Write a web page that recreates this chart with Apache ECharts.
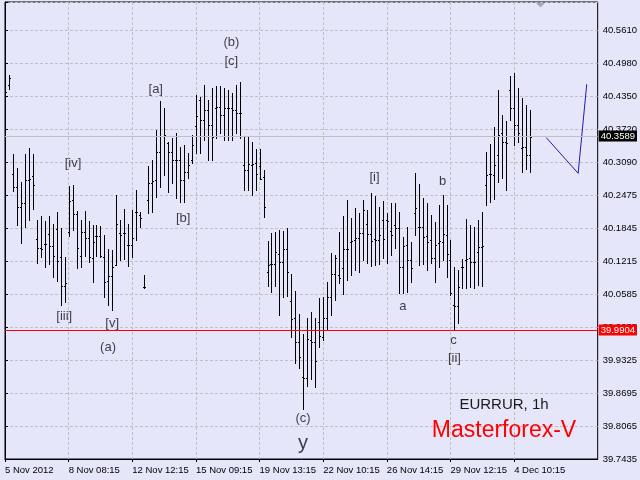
<!DOCTYPE html>
<html>
<head>
<meta charset="utf-8">
<script src="https://cdn.jsdelivr.net/npm/echarts@6/dist/echarts.min.js"></script>
<style>
html,body{margin:0;padding:0;background:#E6E6FA;}
#c{width:640px;height:480px;}
</style>
</head>
<body>
<div id="c"></div>
<script>
// ---- data (EURRUR, 1h bars) ----
const opens = [40.4862,40.4575,40.2876,40.2628,40.2246,40.2323,40.2762,40.2838,40.1635,40.1463,
40.1540,40.1731,40.1502,40.1826,40.1292,40.0738,40.1769,40.2380,40.2112,40.1311,
40.1769,40.1654,40.1272,40.1692,40.1692,40.1292,40.0833,40.0929,40.1139,40.1750,
40.1750,40.1521,40.1521,40.2151,40.2093,40.0719,40.2380,40.2704,40.2762,40.3296,
40.3602,40.3468,40.3296,40.3143,40.3143,40.2762,40.2915,40.3143,40.3793,40.4289,
40.3907,40.4098,40.3812,40.4136,40.4155,40.4002,40.4136,40.4136,40.4098,40.4041,
40.3048,40.2953,40.3048,40.3086,40.3029,40.2819,40.1005,40.1158,40.1158,40.1349,
40.1196,40.1444,40.0452,40.0127,39.9669,39.9000,39.8981,39.9707,39.9669,40.0051,
39.9765,40.0127,40.0528,40.0967,40.0948,40.1081,40.1444,40.1578,40.1616,40.1654,
40.1750,40.1922,40.1731,40.1635,40.1616,40.1998,40.1998,40.1788,40.1903,40.1845,
40.1101,40.1521,40.1234,40.2131,40.1864,40.1864,40.1692,40.1616,40.1272,40.1559,
40.1578,40.1712,40.1234,40.0375,40.0356,40.1101,40.1234,40.1272,40.1196,40.1387,
40.1483,40.2666,40.2876,40.2857,40.3239,40.3659,40.3487,40.4480,40.4136,40.3812,
40.3373,40.3392,40.3239];
const highs = [40.5110,40.4766,40.3258,40.2991,40.2724,40.3258,40.3373,40.3258,40.1998,40.2074,
40.1979,40.2074,40.1922,40.2151,40.1845,40.1292,40.2647,40.2666,40.2170,40.1998,
40.2170,40.1979,40.1903,40.1903,40.1884,40.1712,40.1444,40.1425,40.2475,40.1998,
40.2208,40.1922,40.2189,40.2571,40.2151,40.0948,40.3029,40.3143,40.3716,40.4270,
40.4136,40.3487,40.3564,40.3659,40.3392,40.3430,40.3277,40.3621,40.4384,40.4346,
40.4575,40.4289,40.4518,40.4556,40.4556,40.4518,40.4480,40.4423,40.4575,40.4633,
40.3602,40.3602,40.3487,40.3354,40.3354,40.2953,40.1597,40.1750,40.1769,40.1807,
40.1788,40.1845,40.0967,40.0642,40.0203,39.9822,40.0127,40.0242,40.0127,40.0509,
40.0528,40.0814,40.1368,40.1330,40.1769,40.2074,40.2380,40.2036,40.2227,40.2131,
40.2380,40.2189,40.2513,40.2456,40.2246,40.2361,40.2131,40.2323,40.2323,40.2151,
40.1673,40.1864,40.1578,40.2895,40.2685,40.2418,40.2323,40.2093,40.1960,40.2284,
40.2475,40.2284,40.1616,40.1101,40.1043,40.1253,40.2017,40.1903,40.1864,40.1998,
40.2151,40.3296,40.3449,40.3774,40.4480,40.4002,40.3888,40.4747,40.4804,40.4518,
40.4327,40.4193,40.4098];
const lows = [40.4308,40.4499,40.2552,40.1903,40.1559,40.1864,40.1998,40.2208,40.1177,40.1292,
40.1101,40.1158,40.0910,40.0833,40.0375,40.0433,40.1692,40.1807,40.1081,40.1101,
40.1311,40.1196,40.0814,40.1311,40.1292,40.0528,40.0375,40.0280,40.1139,40.1234,
40.1253,40.1120,40.1292,40.1616,40.1864,40.0700,40.2131,40.2151,40.2437,40.2628,
40.2857,40.2532,40.2704,40.2418,40.2342,40.2342,40.2800,40.3086,40.3277,40.3277,
40.3525,40.3143,40.3143,40.3564,40.3659,40.3525,40.3525,40.3525,40.3659,40.3564,
40.2571,40.2571,40.2475,40.2571,40.2781,40.2055,40.0738,40.0623,40.0738,40.0184,
40.0528,40.0547,39.9765,39.9268,39.9172,39.8390,39.8829,39.8962,39.8810,39.9573,
39.9707,39.9898,40.0184,40.0471,40.0795,40.0585,40.0853,40.0948,40.1043,40.1005,
40.1234,40.1177,40.1120,40.1139,40.1158,40.1272,40.1177,40.1330,40.1463,40.0604,
40.0604,40.0623,40.0814,40.1712,40.1139,40.1158,40.1043,40.1177,40.0814,40.1101,
40.1234,40.0910,40.0566,39.9904,40.0032,40.0700,40.0700,40.0719,40.0700,40.0757,
40.0738,40.2284,40.2342,40.2399,40.2724,40.2800,40.2571,40.3907,40.3430,40.3487,
40.2915,40.2972,40.2915];
const closes = [40.4442,40.4709,40.2628,40.2246,40.2323,40.2762,40.2781,40.2666,40.1463,40.1444,
40.1540,40.1502,40.1311,40.1215,40.0738,40.0795,40.2361,40.2112,40.1463,40.1769,
40.1654,40.1292,40.1578,40.1692,40.1311,40.0814,40.0929,40.1101,40.1922,40.1712,
40.1750,40.1521,40.1654,40.2151,40.2036,40.0719,40.2704,40.2743,40.3296,40.3602,
40.3621,40.3296,40.3143,40.3143,40.2762,40.2915,40.3048,40.3430,40.3983,40.3907,
40.4098,40.3812,40.3583,40.4155,40.4002,40.4136,40.4136,40.4098,40.4041,40.4041,
40.2953,40.3067,40.3067,40.2876,40.2781,40.2246,40.1139,40.1158,40.1387,40.1196,
40.1444,40.1005,40.0108,39.9669,39.9383,39.8981,39.9726,39.9669,39.9306,39.9784,
40.0127,40.0528,40.0967,40.1272,40.0891,40.1444,40.1444,40.1597,40.1654,40.1750,
40.2189,40.1731,40.1597,40.1616,40.1712,40.1635,40.1979,40.1712,40.1845,40.1101,
40.1502,40.1234,40.1081,40.2227,40.1864,40.1673,40.1578,40.1272,40.1521,40.1597,
40.1731,40.1349,40.0604,40.0356,40.0719,40.1101,40.1253,40.1196,40.1196,40.1483,
40.1502,40.2857,40.2876,40.3048,40.3621,40.3487,40.3468,40.4136,40.3812,40.3659,
40.3392,40.3239,40.3589];

const xTickBars   = [0,16,32,48,64,80,96,112,128];
const xTickLabels = ['5 Nov 2012','8 Nov 08:15','12 Nov 12:15','15 Nov 09:15','19 Nov 13:15','22 Nov 10:15','26 Nov 14:15','29 Nov 12:15','4 Dec 10:15'];
const yTickLabels = ['39.7435','39.8065','39.8695','39.9325','39.9955','40.0585','40.1215','40.1845','40.2475','40.3090','40.3720','40.4350','40.4980','40.5610'];

const waveLabels      = ['(b)','[c]','[a]','[iv]','[b]','[iii]','[v]','(a)','[i]','b','a','c','[ii]','(c)','y'];
const waveLabelBars   = [56.9,56.9,37.9,17.1,44.8,14.9,26.95,25.9,92.9,110,100,112.75,113,74.95,74.9];
const waveLabelPrices = [40.5387,40.5024,40.4489,40.3086,40.2030,40.0165,40.0026,39.9558,40.2804,40.2729,40.0356,39.9707,39.9358,39.8203,39.7740];

const projectionBars   = [136.1,144.1,146.25];
const projectionPrices = [40.3569,40.2889,40.4589];

const lastPrice = 40.3589;
const levelPrice = 39.9904;

// ---- chart ----
const FONT = '"Liberation Sans", Arial, sans-serif';
const yMin = parseFloat(yTickLabels[0]);
const yStep = 0.063;
const chart = echarts.init(document.getElementById('c'), null, {renderer:'canvas'});

const ohlc = opens.map((o, i) => [i, o, highs[i], lows[i], closes[i]]);
const labelData = waveLabels.map((t, i) => {
  const item = {value:[waveLabelBars[i], waveLabelPrices[i], t]};
  if (t === 'y') item.label = {fontSize: 20};
  return item;
});

const gridLine = {show:true, lineStyle:{color:'#C0C0C0', width:1, type:[3,2]}};

chart.setOption({
  animation:false,
  backgroundColor:'#E6E6FA',
  grid:{left:5, right:39, top:2, bottom:21, show:true, backgroundColor:'#E6E6FA', borderColor:'#000', borderWidth:1},
  xAxis:{
    type:'value', min:0, max:149, interval:8,
    axisLine:{show:true, lineStyle:{color:'#000', width:1}},
    axisTick:{show:true, length:3, lineStyle:{color:'#000'}, customValues:xTickBars},
    axisLabel:{show:true, customValues:xTickBars, align:'left', margin:6, color:'#000', fontSize:9.5, fontFamily:FONT,
      formatter:function(v){ const i = xTickBars.indexOf(Math.round(v)); return (i>=0 && Math.abs(v-Math.round(v))<1e-6) ? xTickLabels[i] : ''; }},
    splitLine:gridLine
  },
  yAxis:{
    type:'value', position:'right', min:yMin, max:40.616, interval:yStep,
    axisLine:{show:true, lineStyle:{color:'#000', width:1}},
    axisTick:{show:true, length:3, lineStyle:{color:'#000'}},
    axisLabel:{show:true, margin:5, color:'#000', fontSize:9.5, fontFamily:FONT,
      formatter:function(v){ const i = Math.round((v-yMin)/yStep); return (i>=0 && i<yTickLabels.length && Math.abs(v-(yMin+i*yStep))<1e-6) ? yTickLabels[i] : ''; }},
    splitLine:gridLine
  },
  series:[
    {
      type:'custom', name:'EURRUR', data:ohlc, clip:true, silent:true,
      encode:{x:0, y:[1,2,3,4]},
      renderItem:function(params, api){
        const k = api.value(0);
        const po = api.coord([k, api.value(1)]);
        const ph = api.coord([k, api.value(2)]);
        const pl = api.coord([k, api.value(3)]);
        const pc = api.coord([k, api.value(4)]);
        const X = Math.round(po[0]);
        const st = {stroke:'#000', lineWidth:1};
        const yo = Math.round(po[1]) + 0.5, yc = Math.round(pc[1]) + 0.5;
        return {type:'group', children:[
          {type:'line', shape:{x1:X+0.5, y1:Math.round(ph[1]), x2:X+0.5, y2:Math.round(pl[1])+1}, style:st},
          {type:'line', shape:{x1:X-1, y1:yo, x2:X, y2:yo}, style:st},
          {type:'line', shape:{x1:X+1, y1:yc, x2:X+2, y2:yc}, style:st}
        ]};
      },
      markLine:{
        silent:true, symbol:['none','none'], animation:false,
        data:[
          {yAxis:lastPrice, lineStyle:{color:'#C0C0C0', width:1, type:'solid'},
           label:{show:true, position:'end', distance:1, formatter:String(lastPrice.toFixed(4)), color:'#fff', backgroundColor:'#000', padding:[1,2,0,2], fontSize:9.5, fontFamily:FONT, lineHeight:10}},
          {yAxis:levelPrice, lineStyle:{color:'#FF0000', width:1, type:'solid'},
           label:{show:true, position:'end', distance:1, formatter:String(levelPrice.toFixed(4)), color:'#fff', backgroundColor:'#FF0000', padding:[1,2,0,2], fontSize:9.5, fontFamily:FONT, lineHeight:10}}
        ]
      },
      z:3
    },
    {
      type:'line', name:'projection', data:projectionBars.map((b,i)=>[b, projectionPrices[i]]),
      showSymbol:false, symbol:'none', lineStyle:{color:'#1C1CB0', width:1}, silent:true, z:4
    },
    {
      type:'scatter', name:'waves', data:labelData, symbolSize:1, itemStyle:{color:'rgba(0,0,0,0)'}, silent:true, z:5,
      label:{show:true, position:'inside', formatter:function(p){return p.value[2];}, color:'#101018', fontSize:13, fontFamily:FONT}
    }
  ],
  graphic:[
    {type:'polygon', shape:{points:[[536,3],[545,3],[540.5,7.5]]}, style:{fill:'#A8A8B8'}, z:10},
    {type:'text', x:504, y:405, style:{text:'EURRUR, 1h', font:'15px '+FONT, fill:'#1a1a1a', textAlign:'center', textVerticalAlign:'middle'}, z:10},
    {type:'text', x:504, y:431, style:{text:'Masterforex-V', font:'23px '+FONT, fill:'#FF0000', textAlign:'center', textVerticalAlign:'middle'}, z:10}
  ]
});
</script>
</body>
</html>
